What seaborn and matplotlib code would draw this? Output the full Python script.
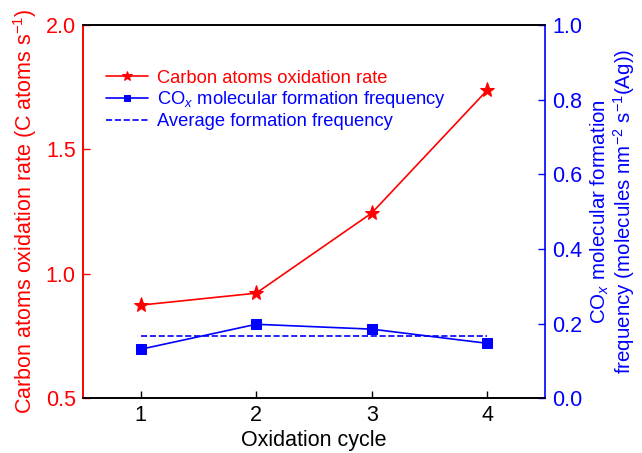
import matplotlib
matplotlib.use("Agg")
import matplotlib.pyplot as plt
import seaborn as sns
import pandas as pd
import numpy as np

cycles = [1, 2, 3, 4]
oxidation_rate = [0.874, 0.922, 1.244, 1.738]
cox_freq = [0.131, 0.198, 0.185, 0.147]
avg_freq = [0.166, 0.166, 0.166, 0.166]

sns.set_style("ticks")
plt.rcParams['font.family'] = ['Liberation Sans', 'DejaVu Sans']
plt.rcParams['mathtext.fontset'] = 'custom'
plt.rcParams['mathtext.rm'] = 'Liberation Sans'
plt.rcParams['mathtext.it'] = 'Liberation Sans:italic'

RED = '#ff0000'
BLUE = '#0000ff'

df = pd.DataFrame({'cycle': cycles, 'rate': oxidation_rate, 'freq': cox_freq, 'avg': avg_freq})

fig = plt.figure(figsize=(6.42, 4.53), dpi=100)
ax = fig.add_axes([0.129, 0.121, 0.72, 0.824])
ax2 = ax.twinx()

sns.lineplot(data=df, x='cycle', y='rate', ax=ax, color=RED, marker='*', markersize=11,
             markeredgecolor=RED, linewidth=1.2, label='Carbon atoms oxidation rate', legend=False)
sns.lineplot(data=df, x='cycle', y='freq', ax=ax2, color=BLUE, marker='s', markersize=6.5,
             markeredgecolor=BLUE, linewidth=1.2, label='CO$_x$ molecular formation frequency', legend=False)
sns.lineplot(data=df, x='cycle', y='avg', ax=ax2, color=BLUE, linestyle='--', linewidth=1.2,
             dashes=(3.5, 2), label='Average formation frequency', legend=False)

ax.set_xlim(0.5, 4.5)
ax.set_ylim(0.5, 2.0)
ax2.set_ylim(0.0, 1.0)
ax.set_xticks(cycles)
ax.set_yticks([0.5, 1.0, 1.5, 2.0])
ax2.set_yticks([0.0, 0.2, 0.4, 0.6, 0.8, 1.0])
ax.yaxis.set_major_formatter(matplotlib.ticker.FormatStrFormatter('%.1f'))
ax2.yaxis.set_major_formatter(matplotlib.ticker.FormatStrFormatter('%.1f'))

ax.set_xlabel('Oxidation cycle', fontsize=15.5, color='black', labelpad=3)
ax.set_ylabel('Carbon atoms oxidation rate (C atoms s$^{-1}$)', fontsize=15.5, color=RED, labelpad=5)
ax2.set_ylabel('CO$_x$ molecular formation\nfrequency (molecules nm$^{-2}$ s$^{-1}$(Ag))',
               fontsize=14.8, color=BLUE, labelpad=5, linespacing=1.0)

ax.tick_params(axis='x', direction='in', length=5, labelsize=15.5, colors='black', width=1, pad=5)
ax.tick_params(axis='y', direction='in', length=5, labelsize=15.5, colors=RED, width=1, pad=5)
ax2.tick_params(axis='y', direction='in', length=5, labelsize=15.5, colors=BLUE, width=1, pad=5)

for a in (ax, ax2):
    for s in a.spines.values():
        s.set_linewidth(1.2)
    a.spines['top'].set_color('black')
    a.spines['bottom'].set_color('black')
    a.spines['left'].set_color(RED)
    a.spines['right'].set_color(BLUE)
ax.spines['right'].set_visible(False)

h1, l1 = ax.get_legend_handles_labels()
h2, l2 = ax2.get_legend_handles_labels()
leg = ax2.legend(h1 + h2, l1 + l2, loc='upper left', bbox_to_anchor=(0.035, 0.9), frameon=False,
                 fontsize=13.2, handlelength=2.3, handletextpad=0.45, labelspacing=0.15,
                 borderaxespad=0, markerscale=0.65)
for t, c in zip(leg.get_texts(), [RED, BLUE, BLUE]):
    t.set_color(c)

fig.savefig('out.png', dpi=100)
